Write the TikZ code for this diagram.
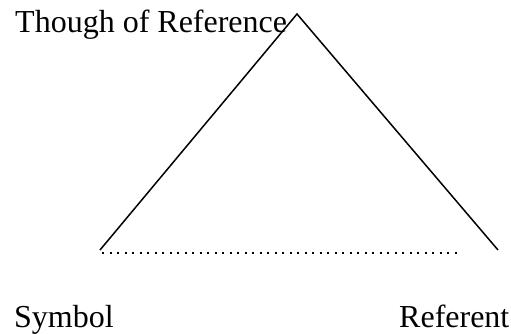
\documentclass[tikz,border=0pt]{standalone}
\usepackage{fontspec}
\setmainfont{Liberation Serif}
\begin{document}
\begin{tikzpicture}[x=1pt,y=-1pt,
  lbl/.style={anchor=base west,inner sep=0pt,font=\fontsize{32}{38}\selectfont},
  side/.style={line width=1.5pt},
  dotline/.style={line width=2pt,dash pattern=on 2pt off 5.5pt}]
\useasboundingbox (0,0) rectangle (511,334);
\node[lbl] (thought) at (15,33) {Though of Reference};
\node[lbl] (symbol) at (14,327) {Symbol};
\node[lbl] (referent) at (399,327) {Referent};
\coordinate (apex) at (297,14);
\coordinate (left) at (100,250);
\coordinate (right) at (498,250);
\coordinate (d1) at (102,253);
\coordinate (d2) at (458,253);
\draw[side] (left) -- (apex) -- (right);
\draw[dotline] (d1) -- (d2);
\end{tikzpicture}
\end{document}
